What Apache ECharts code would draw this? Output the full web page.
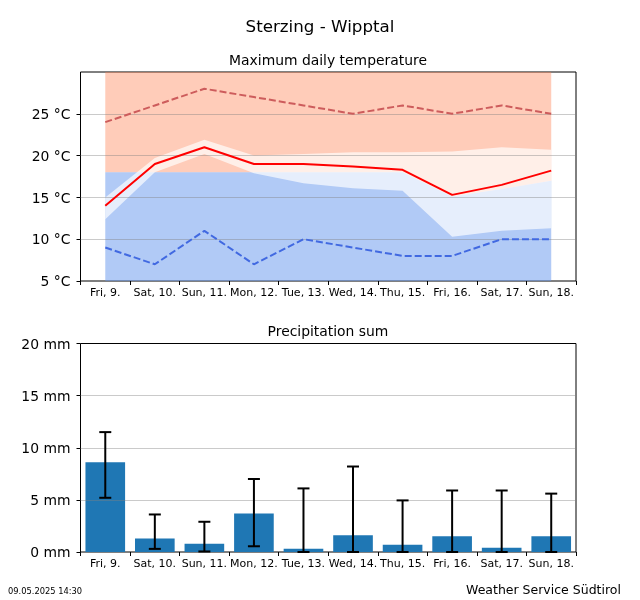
<!DOCTYPE html>
<html>
<head>
<meta charset="utf-8">
<title>Sterzing - Wipptal</title>
<script src="https://cdn.jsdelivr.net/npm/echarts@6/dist/echarts.min.js"></script>
<style>
html, body { margin: 0; padding: 0; background: #fff; }
#grafico { width: 640px; height: 600px; }
</style>
</head>
<body>
<div id="grafico"></div>
<script>
var dias = ["Fri, 9.", "Sat, 10.", "Sun, 11.", "Mon, 12.", "Tue, 13.", "Wed, 14.", "Thu, 15.", "Fri, 16.", "Sat, 17.", "Sun, 18."];

// temperature
var temp_media = [14, 19, 21, 19, 19, 18.7, 18.3, 15.3, 16.5, 18.2];
var temp_max = [24, 26, 28, 27, 26, 25, 26, 25, 26, 25];
var temp_min = [9, 7, 11, 7, 10, 9, 8, 8, 10, 10];
var banda_alta = [15, 19.7, 21.9, 20, 20.2, 20.4, 20.4, 20.5, 21, 20.7];
var banda_baja = [12.4, 18, 20.2, 17.9, 16.7, 16.1, 15.8, 10.3, 11, 11.3];
var limite = [18, 18, 18, 18, 18, 18, 18, 15.1, 16, 17];
var ticks_temp = [5, 10, 15, 20, 25];

// precipitation
var lluvia = [8.6, 1.3, 0.8, 3.7, 0.3, 1.6, 0.7, 1.5, 0.4, 1.5];
var lluvia_baja = [5.2, 0.3, 0.05, 0.55, 0, 0, 0, 0, 0, 0];
var lluvia_alta = [11.5, 3.6, 2.9, 7.0, 6.1, 8.2, 4.95, 5.9, 5.9, 5.6];
var ticks_lluvia = [0, 5, 10, 15, 20];
var rejilla_lluvia = [5, 10, 15];

var fuente = "DejaVu Sans";

function ejeX(indice){
    return {
        type: "category",
        gridIndex: indice,
        data: dias,
        boundaryGap: true,
        axisLine: { show: false },
        axisTick: { show: true, length: 4, lineStyle: { color: "#000", width: 1 } },
        axisLabel: { interval: 0, color: "#000", fontFamily: fuente, fontSize: 11, margin: 7 },
        splitLine: { show: false }
    };
}

function ejeY(indice, min, max, ticks, unidad){
    return {
        type: "value",
        gridIndex: indice,
        min: min,
        max: max,
        axisLine: { show: false },
        axisTick: { show: true, length: 4, customValues: ticks, lineStyle: { color: "#000", width: 1 } },
        axisLabel: {
            color: "#000", fontFamily: fuente, fontSize: 13.9, margin: 10,
            verticalAlign: "top", lineHeight: 3,
            customValues: ticks,
            formatter: function(valor){ return valor + unidad; }
        },
        splitLine: { show: false }
    };
}

function rejilla(valores){
    return {
        silent: true,
        symbol: "none",
        z: 3,
        animation: false,
        label: { show: false },
        lineStyle: { type: "solid", color: "rgba(128,128,128,0.42)", width: 1 },
        data: valores.map(function(v){ return { yAxis: v }; })
    };
}

function linea(nombre, datos, color, tipo){
    return {
        name: nombre,
        type: "line",
        data: datos,
        z: 4,
        symbol: "none",
        lineStyle: { color: color, width: 2, type: tipo }
    };
}

function barrasError(params, api){
    var indice = api.value(0);
    var arriba = api.coord([indice, api.value(2)]);
    var abajo = api.coord([indice, api.value(1)]);
    var estilo = { stroke: "#000", lineWidth: 2, fill: null };
    return {
        type: "group",
        children: [
            { type: "line", shape: { x1: arriba[0], y1: arriba[1], x2: abajo[0], y2: abajo[1] }, style: estilo },
            { type: "line", shape: { x1: arriba[0] - 6, y1: arriba[1], x2: arriba[0] + 6, y2: arriba[1] }, style: estilo },
            { type: "line", shape: { x1: abajo[0] - 6, y1: abajo[1], x2: abajo[0] + 6, y2: abajo[1] }, style: estilo }
        ]
    };
}

var myChart = echarts.init(document.getElementById("grafico"), null, { renderer: "canvas" });

var option = {
    animation: false,
    backgroundColor: "#fff",
    title: [
        { text: "Sterzing - Wipptal", left: 315, top: 14, textAlign: "center", textStyle: { fontFamily: fuente, fontSize: 16.7, fontWeight: "normal", color: "#000" } },
        { text: "Maximum daily temperature", left: 323, top: 49, textAlign: "center", textStyle: { fontFamily: fuente, fontSize: 13.9, fontWeight: "normal", color: "#000" } },
        { text: "Precipitation sum", left: 323, top: 320, textAlign: "center", textStyle: { fontFamily: fuente, fontSize: 13.9, fontWeight: "normal", color: "#000" } },
        { text: "09.05.2025 14:30", left: 3, top: 583, textStyle: { fontFamily: fuente, fontSize: 8.3, fontWeight: "normal", color: "#000" } },
        { text: "Weather Service Südtirol", left: 461, top: 579, textStyle: { fontFamily: fuente, fontSize: 12.5, fontWeight: "normal", color: "#000" } }
    ],
    grid: [
        { left: 80.5, top: 72, width: 495.5, height: 209, show: true, borderColor: "#000", borderWidth: 1, backgroundColor: "transparent" },
        { left: 80.5, top: 343.5, width: 495.5, height: 208.5, show: true, borderColor: "#000", borderWidth: 1, backgroundColor: "transparent" }
    ],
    xAxis: [ejeX(0), ejeX(1)],
    yAxis: [
        ejeY(0, 5, 30, ticks_temp, " °C"),
        ejeY(1, 0, 20, ticks_lluvia, " mm")
    ],
    series: [
        {
            name: "sobre limite", type: "line", data: limite, z: 1, symbol: "none",
            lineStyle: { width: 0 },
            areaStyle: { origin: "end", color: "rgba(255,127,80,0.4)", opacity: 1 }
        },
        {
            name: "bajo limite", type: "line", data: limite, z: 1, symbol: "none",
            lineStyle: { width: 0 },
            areaStyle: { origin: "start", color: "rgba(100,149,237,0.5)", opacity: 1 }
        },
        {
            name: "banda base", type: "line", stack: "banda", data: banda_baja, z: 2, symbol: "none",
            lineStyle: { width: 0 }
        },
        {
            name: "banda", type: "line", stack: "banda", z: 2, symbol: "none",
            data: banda_alta.map(function(v, i){ return v - banda_baja[i]; }),
            lineStyle: { width: 0 },
            areaStyle: { color: "rgba(255,255,255,0.68)", opacity: 1 }
        },
        Object.assign(linea("media", temp_media, "#ff0000", "solid"), { markLine: rejilla(ticks_temp.slice(1)) }),
        linea("maxima", temp_max, "#cd5c5c", [7, 3]),
        linea("minima", temp_min, "#4169e1", [7, 3]),
        {
            name: "lluvia", type: "bar", xAxisIndex: 1, yAxisIndex: 1, data: lluvia, z: 2,
            barWidth: "80%",
            itemStyle: { color: "#1f77b4" },
            markLine: rejilla(rejilla_lluvia)
        },
        {
            name: "error", type: "custom", xAxisIndex: 1, yAxisIndex: 1, z: 4,
            renderItem: barrasError,
            encode: { x: 0, y: [1, 2] },
            data: lluvia_baja.map(function(v, i){ return [i, v, lluvia_alta[i]]; })
        }
    ]
};

myChart.setOption(option, true);

window.addEventListener("resize", function(){
    if(myChart != null && myChart != undefined){
        myChart.resize();
    }
});
</script>
</body>
</html>
